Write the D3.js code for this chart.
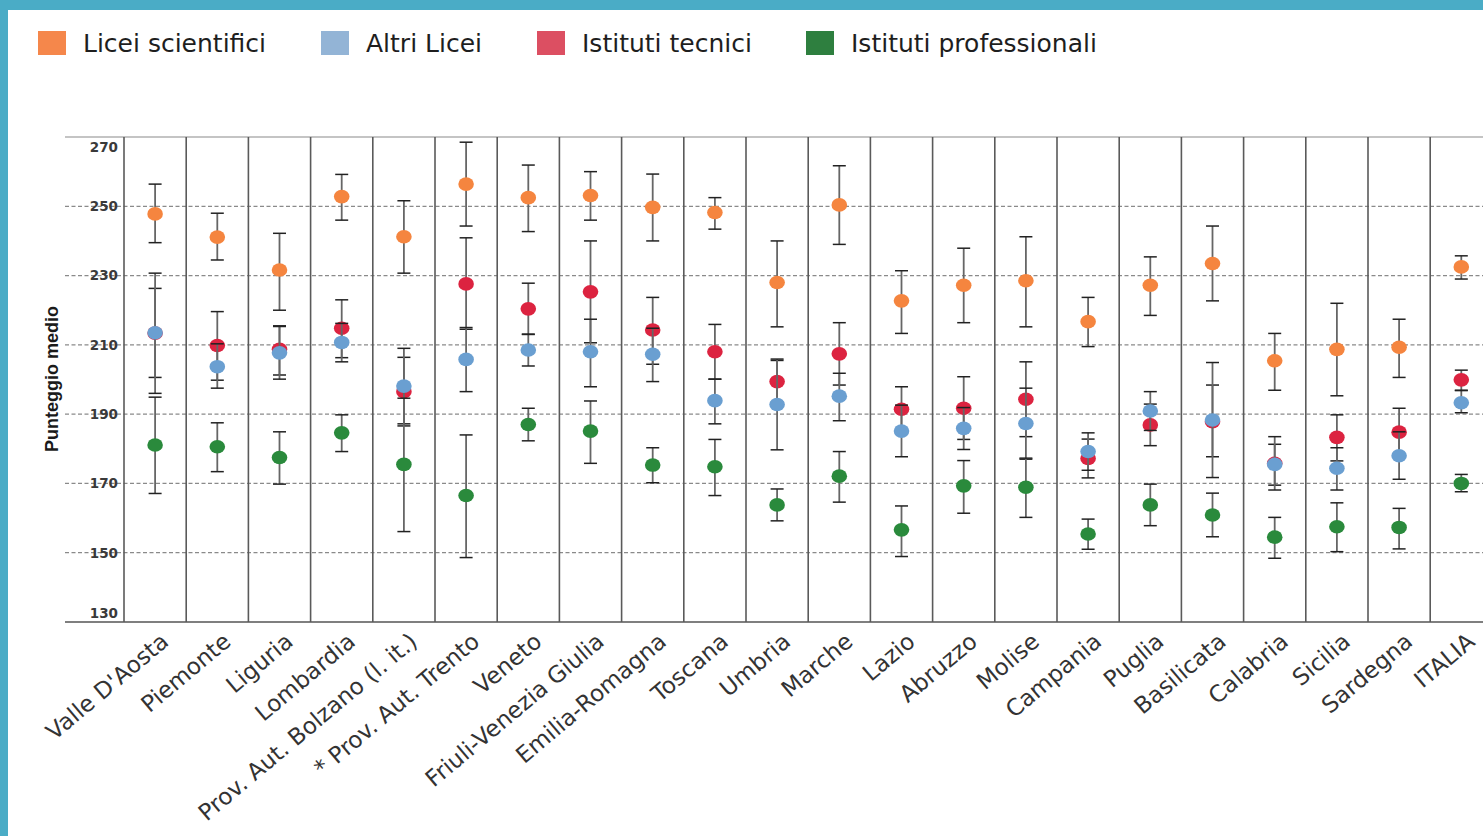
<!DOCTYPE html>
<html><head><meta charset="utf-8">
<script src="https://cdn.jsdelivr.net/npm/d3@7"></script>
<style>
html,body{margin:0;padding:0;background:#fff;}
svg{display:block;}
</style></head>
<body>
<svg id="chart" width="1483" height="836"></svg>
<script>
const categories = ["Valle D'Aosta","Piemonte","Liguria","Lombardia","Prov. Aut. Bolzano (l. it.)","* Prov. Aut. Trento","Veneto","Friuli-Venezia Giulia","Emilia-Romagna","Toscana","Umbria","Marche","Lazio","Abruzzo","Molise","Campania","Puglia","Basilicata","Calabria","Sicilia","Sardegna","ITALIA"];

const seriesNames = ["Licei scientifici","Altri Licei","Istituti tecnici","Istituti professionali"];

// Licei scientifici
const liceiSciMean = [247.8,241.1,231.6,252.8,241.2,256.4,252.5,253.1,249.7,248.2,228.0,250.4,222.7,227.2,228.5,216.7,227.2,233.5,205.4,208.7,209.3,232.5];
const liceiSciLow  = [239.5,234.5,220.0,246.0,230.7,244.3,242.7,246.0,240.0,243.4,215.2,239.0,213.3,216.4,215.2,209.5,218.5,222.7,196.9,195.3,200.6,229.0];
const liceiSciHigh = [256.4,248.0,242.2,259.2,251.6,268.5,261.9,260.0,259.3,252.5,240.0,261.7,231.4,237.9,241.2,223.7,235.4,244.3,213.3,222.0,217.4,235.7];

// Altri Licei
const altriMean = [213.5,203.7,207.7,210.7,198.1,205.8,208.5,208.0,207.3,193.9,192.8,195.2,185.1,185.9,187.3,179.2,190.9,188.3,175.5,174.4,178.0,193.3];
const altriLow  = [196.0,197.5,200.1,205.1,187.2,196.5,203.9,197.9,199.4,187.2,179.7,188.1,177.7,179.8,177.0,173.8,185.3,171.7,168.1,168.1,171.2,190.4];
const altriHigh = [230.7,210.3,215.3,216.2,209.0,215.0,213.0,217.4,214.8,200.1,205.9,201.8,192.6,191.9,197.5,184.6,196.5,204.9,183.5,180.3,184.9,196.8];

// Istituti tecnici
const tecniciMean = [213.4,209.8,208.7,214.8,196.5,227.6,220.4,225.3,214.3,208.0,199.4,207.4,191.4,191.7,194.3,177.2,186.9,187.8,175.8,183.3,184.8,199.9];
const tecniciLow  = [200.6,199.8,201.3,206.3,186.6,214.5,213.1,210.6,204.4,200.1,193.4,198.4,184.9,182.7,183.5,171.6,180.9,177.7,169.5,176.5,177.9,196.9];
const tecniciHigh = [226.3,219.6,215.5,223.0,206.4,240.9,227.8,240.0,223.7,215.9,205.5,216.4,197.9,200.8,205.1,182.8,192.9,198.4,181.3,189.8,191.7,202.7];

// Istituti professionali
const profMean = [181.1,180.6,177.5,184.6,175.5,166.5,187.0,185.1,175.3,174.8,163.8,172.1,156.6,169.3,168.9,155.4,163.8,160.9,154.5,157.5,157.3,170.0];
const profLow  = [167.1,173.4,169.8,179.2,156.1,148.6,182.3,175.8,170.2,166.5,159.2,164.6,148.9,161.4,160.2,151.0,157.8,154.6,148.4,150.3,151.1,167.6];
const profHigh = [194.9,187.5,184.9,189.8,194.6,184.0,191.7,193.8,180.3,182.7,168.4,179.2,163.5,176.6,177.3,159.7,169.8,167.2,160.2,164.4,162.8,172.6];

const yTicks = [130,150,170,190,210,230,250,270];

const dotColors = ["#f5853f","#6a9fd1","#dc2340","#2a8a3c"];
const legendColors = ["#f5874b","#93b4d6","#dc4f62","#2e7f3f"];

const series = [
  {name: seriesNames[0], mean: liceiSciMean, low: liceiSciLow, high: liceiSciHigh, color: dotColors[0], lcolor: legendColors[0]},
  {name: seriesNames[1], mean: altriMean, low: altriLow, high: altriHigh, color: dotColors[1], lcolor: legendColors[1]},
  {name: seriesNames[2], mean: tecniciMean, low: tecniciLow, high: tecniciHigh, color: dotColors[2], lcolor: legendColors[2]},
  {name: seriesNames[3], mean: profMean, low: profLow, high: profHigh, color: dotColors[3], lcolor: legendColors[3]}
];
// drawing order: scientifici, tecnici, altri, professionali
const drawOrder = [0,2,1,3];

const svg = d3.select("#chart");
const W = 1483, H = 836;
svg.append("rect").attr("width", W).attr("height", H).attr("fill", "#fff");
// teal frame
svg.append("rect").attr("x",0).attr("y",0).attr("width",W).attr("height",10).attr("fill","#4aacc6");
svg.append("rect").attr("x",0).attr("y",0).attr("width",8).attr("height",H).attr("fill","#4aacc6");

const x = d3.scaleBand().domain(categories).range([124, 124 + 62.2*categories.length]).padding(0);
const y = d3.scaleLinear().domain([130, 270]).range([622, 137]);
const lineLeft = 65;

// grid lines
const g = svg.append("g");
g.selectAll("line.grid").data(yTicks.filter(v => v > 130 && v < 270)).join("line")
  .attr("class","grid")
  .attr("x1", lineLeft).attr("x2", W)
  .attr("y1", d => y(d)).attr("y2", d => y(d))
  .attr("stroke", "#8a8a8a").attr("stroke-width", 1.2).attr("stroke-dasharray", "4,2.5");
// top and bottom border
g.append("line").attr("x1", lineLeft).attr("x2", W).attr("y1", y(270)).attr("y2", y(270))
  .attr("stroke", "#b0b0b0").attr("stroke-width", 1.5);
g.append("line").attr("x1", lineLeft).attr("x2", W).attr("y1", y(130)).attr("y2", y(130))
  .attr("stroke", "#555").attr("stroke-width", 1.5);

// vertical separators
g.selectAll("line.sep").data(categories).join("line")
  .attr("class","sep")
  .attr("x1", d => x(d)).attr("x2", d => x(d))
  .attr("y1", y(270)).attr("y2", y(130))
  .attr("stroke", "#5a5a5a").attr("stroke-width", 1.6);

// y axis
const yAxis = d3.axisLeft(y).tickValues(yTicks).tickSize(0).tickPadding(0).tickFormat(d3.format("d"));
const ya = svg.append("g").attr("transform", "translate(118,0)").call(yAxis);
ya.select(".domain").remove();
ya.selectAll("text")
  .attr("font-family", "DejaVu Sans, sans-serif").attr("font-weight", "bold")
  .attr("font-size", 13.5).attr("fill", "#3a3a3a")
  .attr("dy", d => d === 270 ? "1.05em" : (d === 130 ? "-0.35em" : "0.32em"));

// y label
svg.append("text")
  .attr("transform", "translate(58,379) rotate(-90)")
  .attr("text-anchor", "middle")
  .attr("font-family", "Liberation Sans, Arial, sans-serif").attr("font-weight", "bold")
  .attr("font-size", 18).attr("fill", "#1a1a1a")
  .text("Punteggio medio");

// error bars and dots
const cx = c => x(c) + x.bandwidth()/2;
const capW = 6.5;
drawOrder.forEach(si => {
  const s = series[si];
  const data = categories.map((c, i) => ({c, m: s.mean[i], lo: s.low[i], hi: s.high[i]}));
  const eg = svg.append("g");
  eg.selectAll("line.v").data(data).join("line")
    .attr("x1", d => cx(d.c)).attr("x2", d => cx(d.c))
    .attr("y1", d => y(d.hi)).attr("y2", d => y(d.lo))
    .attr("stroke", "#666").attr("stroke-width", 1.8);
  eg.selectAll("line.cap1").data(data).join("line")
    .attr("x1", d => cx(d.c) - capW).attr("x2", d => cx(d.c) + capW)
    .attr("y1", d => y(d.hi)).attr("y2", d => y(d.hi))
    .attr("stroke", "#222").attr("stroke-width", 1.5);
  eg.selectAll("line.cap2").data(data).join("line")
    .attr("x1", d => cx(d.c) - capW).attr("x2", d => cx(d.c) + capW)
    .attr("y1", d => y(d.lo)).attr("y2", d => y(d.lo))
    .attr("stroke", "#222").attr("stroke-width", 1.5);
  eg.selectAll("ellipse").data(data).join("ellipse")
    .attr("cx", d => cx(d.c)).attr("cy", d => y(d.m))
    .attr("rx", 7.8).attr("ry", 6.8).attr("fill", s.color);
});

// x labels
svg.append("g").selectAll("text").data(categories).join("text")
  .attr("transform", d => `translate(${cx(d) + 15},${644}) rotate(-40)`)
  .attr("text-anchor", "end")
  .attr("font-family", "DejaVu Sans, sans-serif").attr("font-size", 23)
  .attr("fill", "#333")
  .text(d => d);

// legend
const legendX = [38, 321, 537, 806];
const lg = svg.append("g");
series.forEach((s, i) => {
  lg.append("rect").attr("x", legendX[i]).attr("y", 31).attr("width", 28).attr("height", 24).attr("fill", s.lcolor);
  lg.append("text").attr("x", legendX[i] + 45).attr("y", 52)
    .attr("font-family", "DejaVu Sans, sans-serif").attr("font-size", 25).attr("fill", "#1e1e1e")
    .text(s.name);
});
</script>
</body></html>
